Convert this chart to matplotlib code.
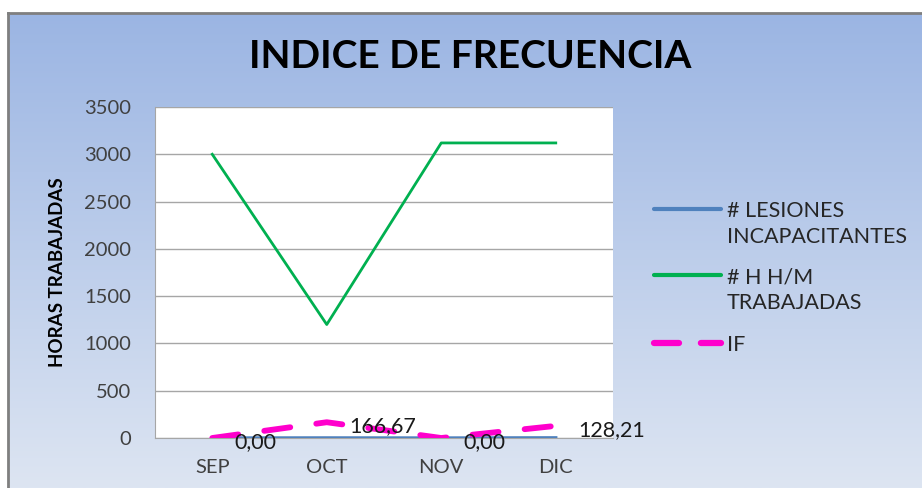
import numpy as np
import matplotlib
matplotlib.use('Agg')
from matplotlib import pyplot as plt
from matplotlib.colors import LinearSegmentedColormap
from matplotlib.lines import Line2D

plt.rcParams['font.family'] = ['Lato', 'DejaVu Sans']

# ----- DATA ----- #
meses = ['SEP', 'OCT', 'NOV', 'DIC']
lesiones = [0, 1, 0, 2]                       # # lesiones incapacitantes
horas = [3000, 1200, 3120, 3120]              # # H H/M trabajadas
indice_f = [0.00, 166.67, 0.00, 128.21]       # IF
etiquetas_if = ['0,00', '166,67', '0,00', '128,21']
y_ticks = [0, 500, 1000, 1500, 2000, 2500, 3000, 3500]
nombres = ['# LESIONES\nINCAPACITANTES', '# H H/M\nTRABAJADAS', 'IF']

W, H = 922, 488
fig = plt.figure(figsize=(W/100, H/100), dpi=100)
fig.patch.set_facecolor('white')

# gradient background of the chart area
bg = fig.add_axes([8/W, 0, 1 - 8/W, (H - 13)/H], zorder=-5)
cmap = LinearSegmentedColormap.from_list('fondo', ['#9BB5E3', '#DDE5F2'])
bg.imshow(np.linspace(0, 1, 256).reshape(-1, 1), aspect='auto', cmap=cmap,
          extent=[0, 1, 0, 1])
bg.set_xticks([])
bg.set_yticks([])
for s in ['right', 'bottom']:
    bg.spines[s].set_visible(False)
for s in ['left', 'top']:
    bg.spines[s].set_color('#7F7F7F')
    bg.spines[s].set_linewidth(2)

ax = fig.add_axes([155/W, 1 - 438/H, (613 - 155)/W, (438 - 107)/H])
ax.set_facecolor('white')
x = np.arange(len(meses))

l1, = ax.plot(x, lesiones, color='#4F81BD', lw=2.4, zorder=3)
l2, = ax.plot(x, horas, color='#00B050', lw=2.0, zorder=3)
l3, = ax.plot(x, indice_f, color='#FF00CC', lw=4.2, dashes=(4.5, 4.5),
              dash_capstyle='round', zorder=4)

for xi, yi, t in zip(x, indice_f, etiquetas_if):
    ax.annotate(t, (xi, yi), xytext=(16, -3), textcoords='offset points',
                ha='left', va='center', fontsize=15.5, color='#1A1A1A', zorder=5,
                annotation_clip=False)

ax.set_xlim(-0.5, 3.5)
ax.set_ylim(0, 3500)
ax.set_yticks(y_ticks)
ax.set_xticks(x)
ax.set_xticklabels(meses)
ax.tick_params(axis='both', length=0, labelsize=14.5, labelcolor='#404040')
ax.tick_params(axis='y', pad=17)
ax.tick_params(axis='x', pad=15)
ax.yaxis.grid(True, color='#A6A6A6', lw=1)
ax.set_axisbelow(True)
for s in ['top', 'right']:
    ax.spines[s].set_visible(False)
for s in ['left', 'bottom']:
    ax.spines[s].set_color('#A6A6A6')

ax.set_ylabel('HORAS TRABAJADAS', fontsize=13.5, fontweight='bold')
ax.yaxis.set_label_coords(-0.195, 0.5)

fig.text(470/W, 1 - 57/H, 'INDICE DE FRECUENCIA', ha='center', va='center',
         fontsize=28, fontweight='bold')

# legend drawn like Excel: handle aligned with first text line
leg_y = [209, 275, 343]
for linea, nombre, yy in zip([l1, l2, l3], nombres, leg_y):
    fy = 1 - yy/H
    h = Line2D([654/W, 721/W], [fy, fy], transform=fig.transFigure,
               color=linea.get_color(), lw=3.0, solid_capstyle='round')
    if linea is l3:
        h.set_linewidth(4.5)
        h.set_dashes((4.0, 3.5))
        h.set_dash_capstyle('round')
    fig.add_artist(h)
    for i, parte in enumerate(nombre.split('\n')):
        fig.text(727/W, 1 - (yy + 26*i)/H, parte, ha='left', va='center_baseline',
                 fontsize=15.5, color='#262626')

plt.savefig('out.png', dpi=100)
